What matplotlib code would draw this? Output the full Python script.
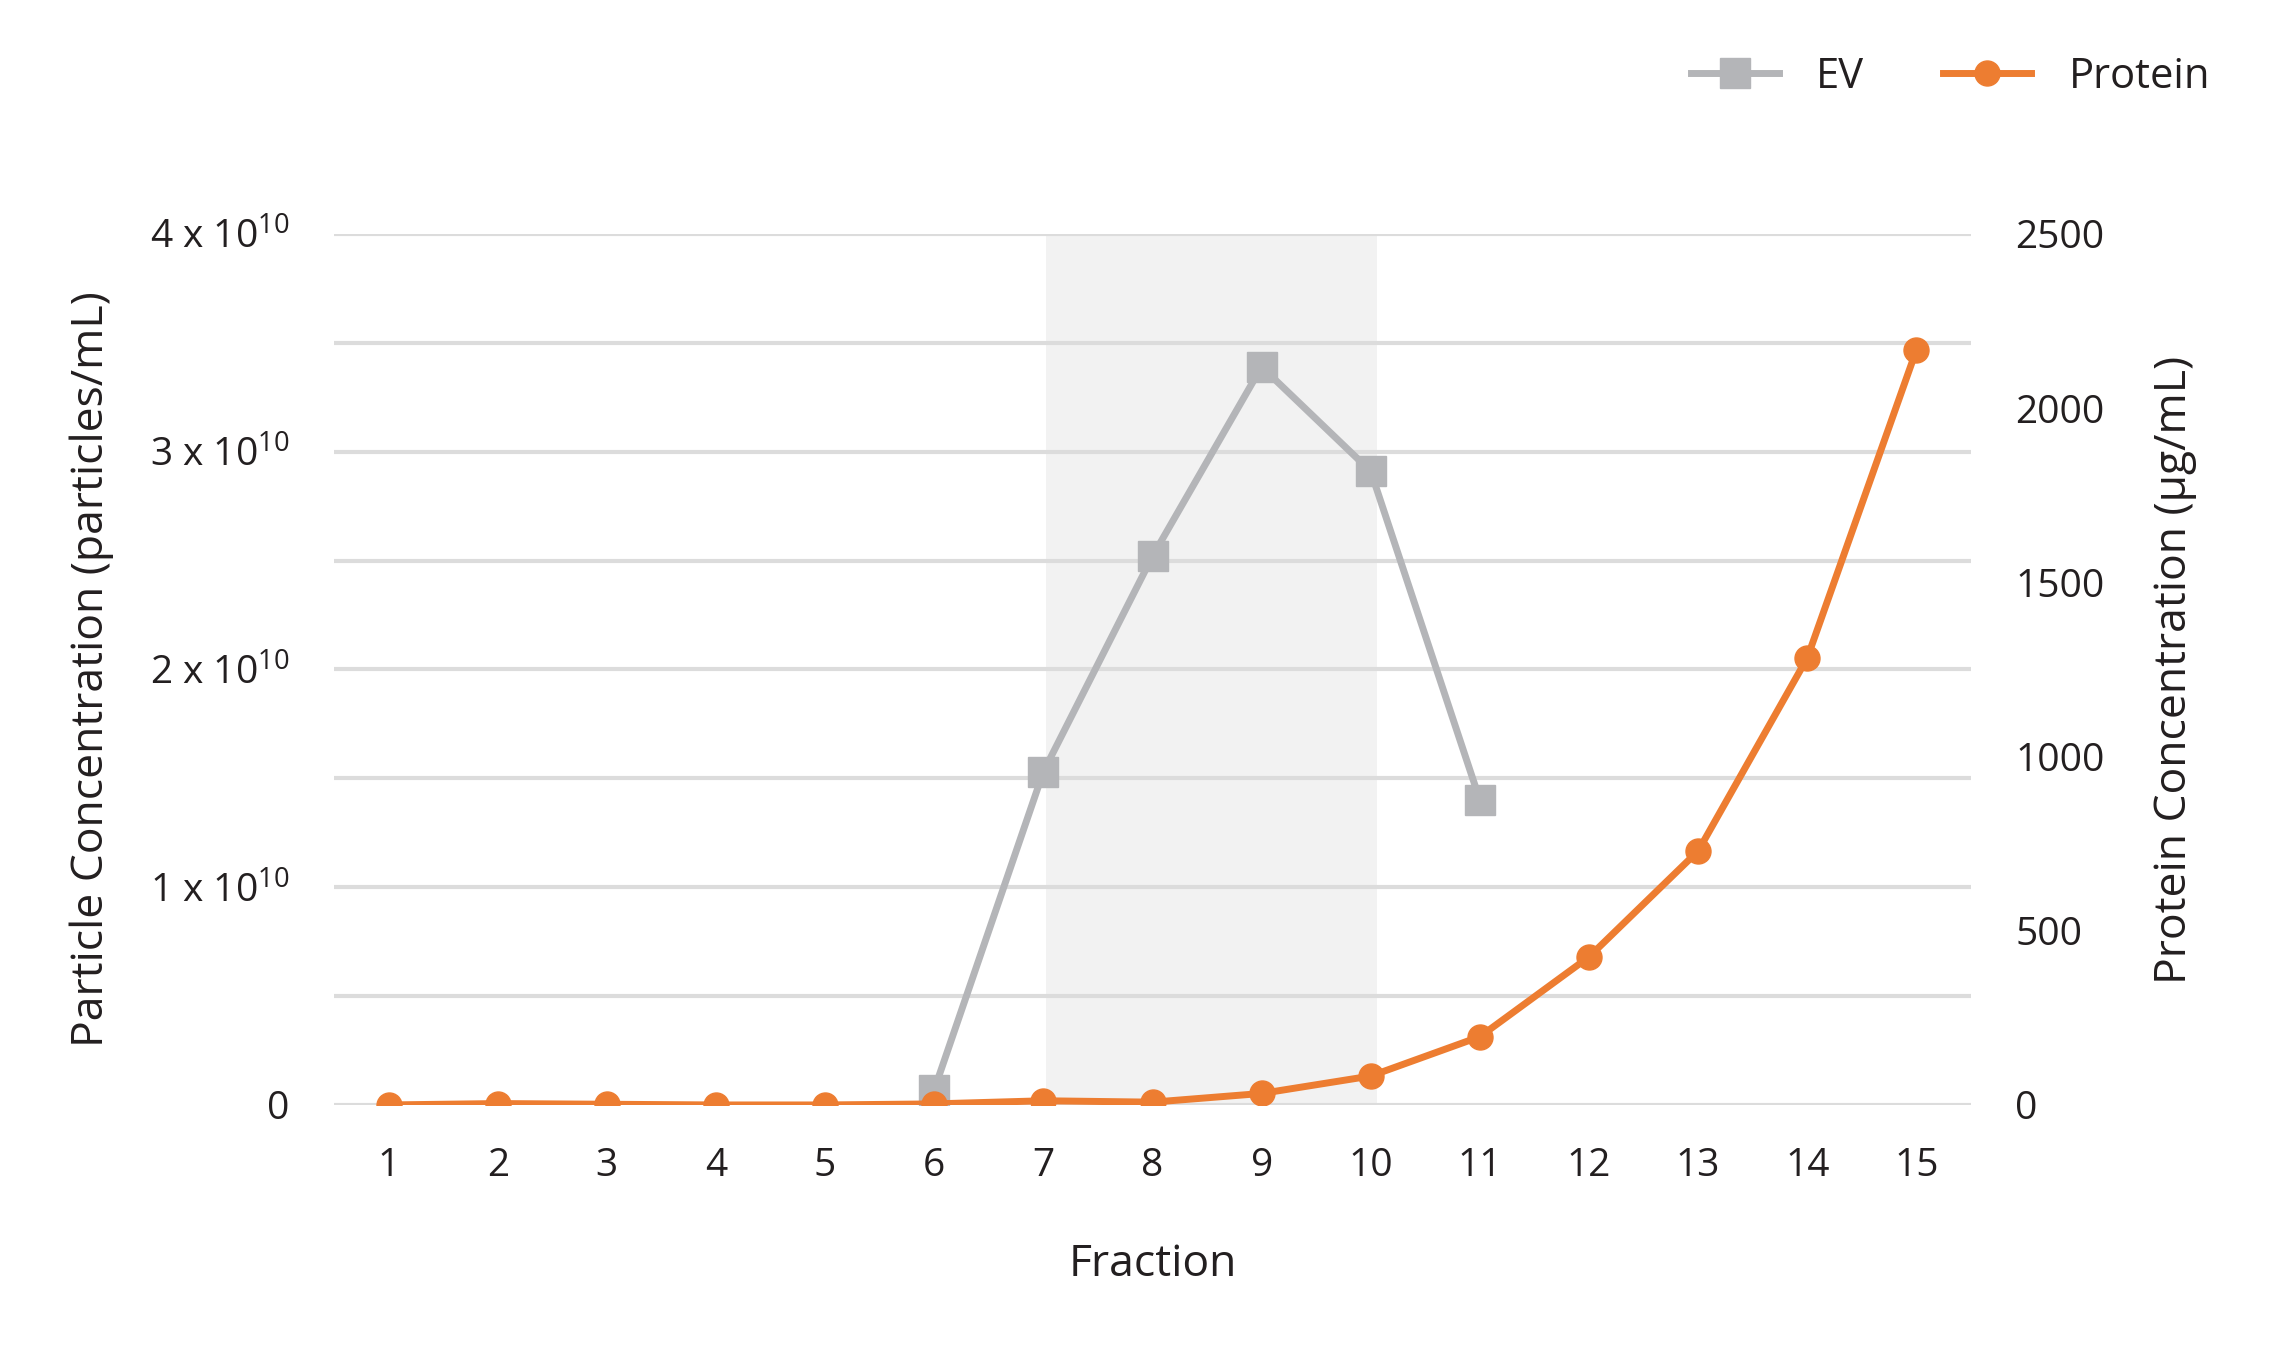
import matplotlib
matplotlib.use("Agg")
import matplotlib.pyplot as plt

plt.rcParams['font.family'] = ['Open Sans', 'DejaVu Sans']
plt.rcParams['mathtext.fontset'] = 'custom'
plt.rcParams['mathtext.rm'] = 'Open Sans'
plt.rcParams['mathtext.it'] = 'Open Sans'

fractions = list(range(1, 16))
ev_fractions = [6, 7, 8, 9, 10, 11]
ev_particles = [0.07e10, 1.53e10, 2.52e10, 3.39e10, 2.91e10, 1.40e10]
protein = [0, 4, 2, 0, 0, 3, 12, 8, 33, 83, 196, 425, 729, 1283, 2167]
left_ticks = [0, 1e10, 2e10, 3e10, 4e10]
left_labels = ['0', '1 x 10$^{10}$', '2 x 10$^{10}$', '3 x 10$^{10}$', '4 x 10$^{10}$']
right_ticks = [0, 500, 1000, 1500, 2000, 2500]

GRAY = '#b4b5b8'
ORANGE = '#ed7d31'
TEXT = '#231f20'


def main():
    fig = plt.figure(figsize=(22.77, 13.47), dpi=100)
    ax = fig.add_axes([0.1467, 0.1797, 0.8656 - 0.1467, 0.8263 - 0.1797])
    ax2 = ax.twinx()

    ax.axvspan(7.02, 10.06, color='#f2f2f2', zorder=0, lw=0)
    for y in [i * 0.5e10 for i in range(9)]:
        ax.axhline(y, color='#dcdcdc', lw=3, zorder=1)

    ev, = ax.plot(ev_fractions, ev_particles, color=GRAY, lw=5, marker='s',
                  markersize=22, zorder=3, label='EV')
    pr, = ax2.plot(fractions, protein, color=ORANGE, lw=5, marker='o',
                   markersize=18, zorder=3, label='Protein')

    ax.set_xlim(0.5, 15.5)
    ax.set_ylim(0, 4e10)
    ax2.set_ylim(0, 2500)
    ax.set_xticks(fractions)
    ax.set_yticks(left_ticks)
    ax.set_yticklabels(left_labels)
    ax2.set_yticks(right_ticks)

    for a in (ax, ax2):
        for s in a.spines.values():
            s.set_visible(False)
    ax.tick_params(axis='both', length=0, labelsize=28, colors=TEXT)
    ax.tick_params(axis='x', pad=30)
    ax.tick_params(axis='y', pad=32)
    ax2.tick_params(axis='y', length=0, labelsize=28, colors=TEXT, pad=32)

    ax.set_xlabel('Fraction', fontsize=32, color=TEXT, labelpad=42)
    ax.set_ylabel('Particle Concentration (particles/mL)', fontsize=32,
                  color=TEXT, labelpad=26)
    ax2.set_ylabel('Protein Concentration (µg/mL)', fontsize=32, color=TEXT,
                   labelpad=34)

    ax2.set_zorder(ax.get_zorder() + 1)
    ax2.patch.set_visible(False)

    fig.legend(handles=[ev, pr], loc='center right', ncol=2, frameon=False,
               fontsize=30, bbox_to_anchor=(0.987, 0.943), handlelength=2.1,
               columnspacing=1.9, handletextpad=0.9, labelcolor=TEXT)

    fig.savefig('out.png', dpi=100)
    plt.close(fig)


if __name__ == "__main__":
    main()
